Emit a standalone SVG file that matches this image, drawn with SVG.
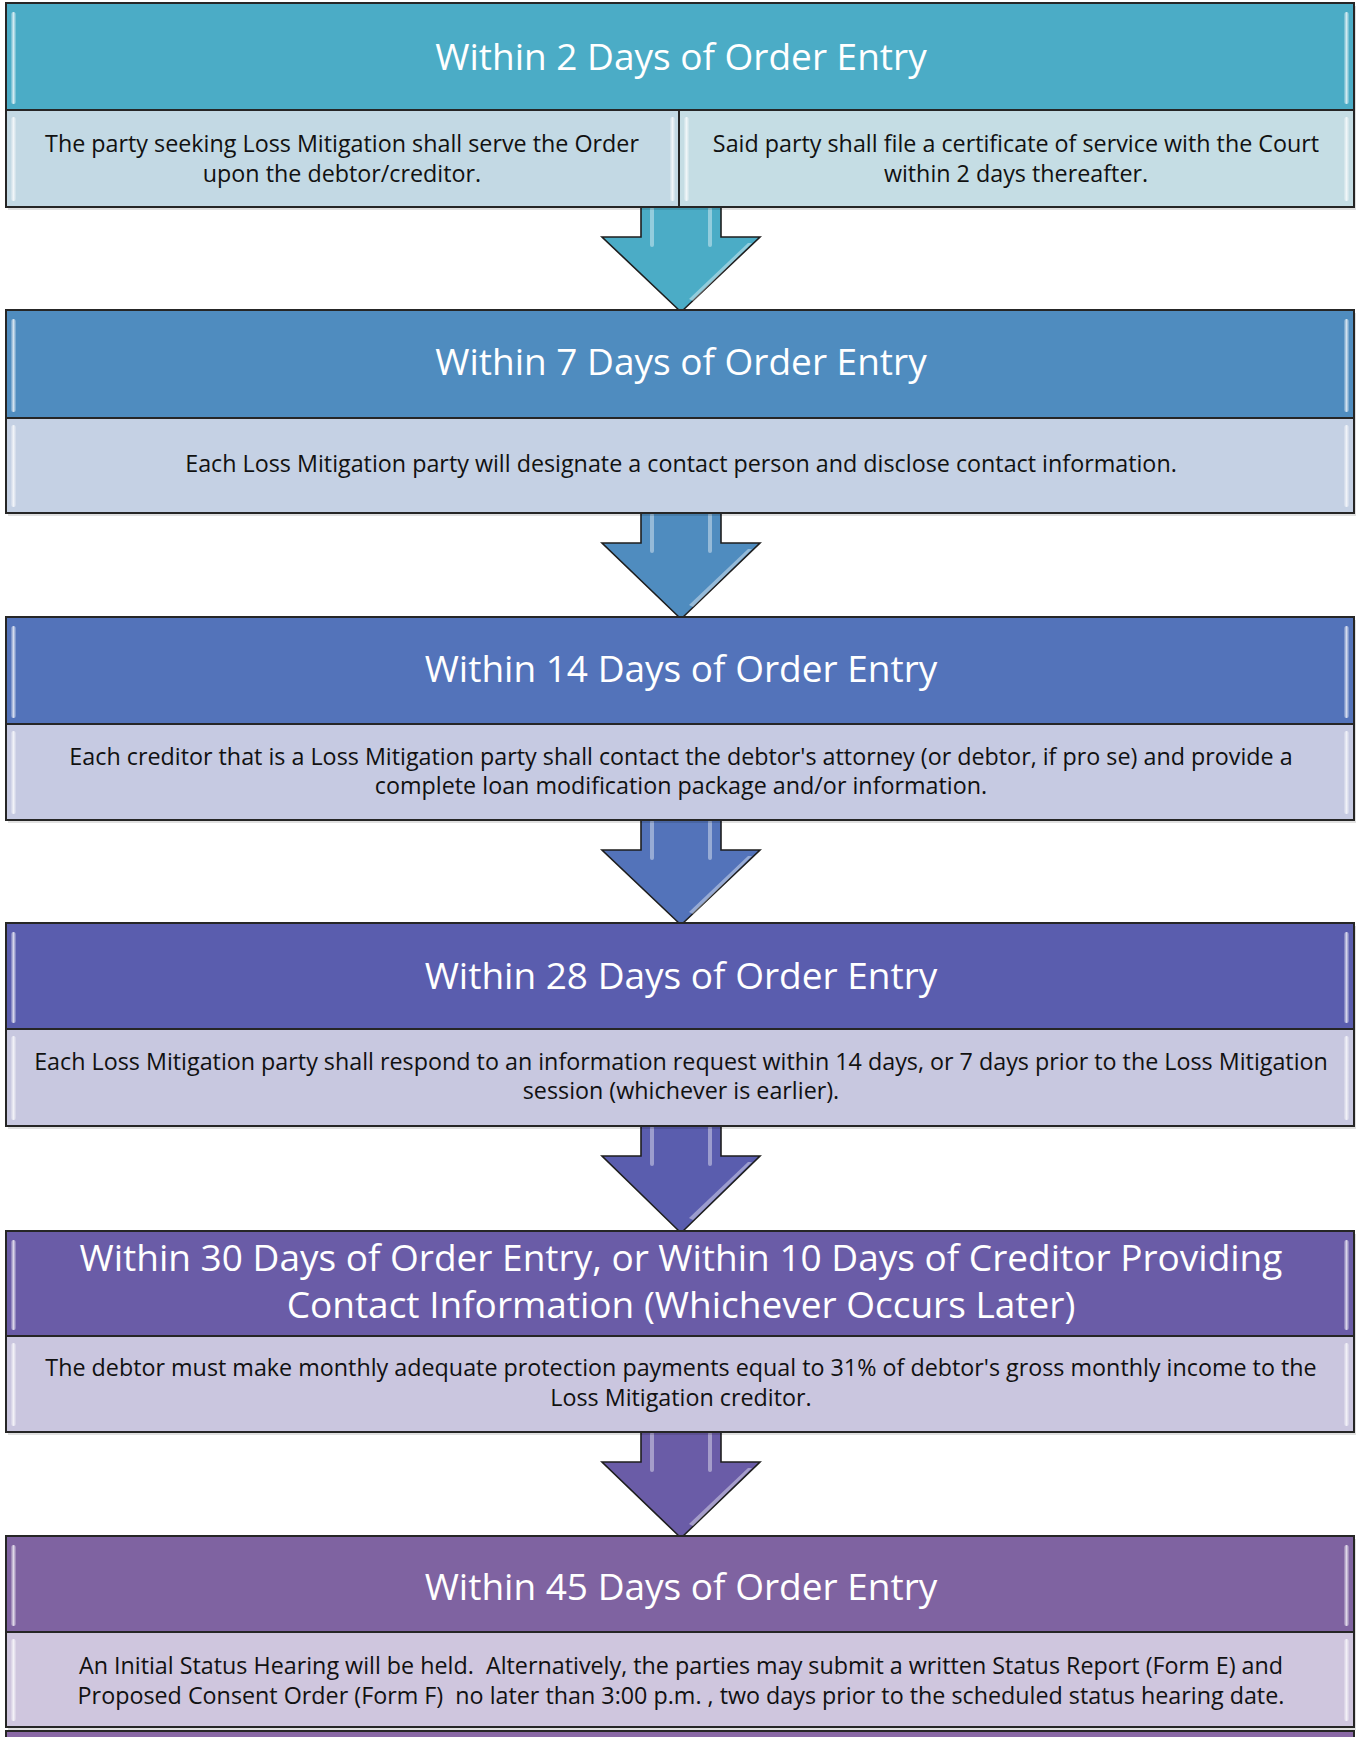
<svg xmlns="http://www.w3.org/2000/svg" width="1356" height="1737" viewBox="0 0 1356 1737">
<style>
.frame{stroke:#262626;stroke-width:2}
.div{stroke:#262626;stroke-width:2}
.title{font-family:"Open Sans","Liberation Sans",sans-serif;font-size:37px;fill:#ffffff;text-anchor:middle}
.body{font-family:"Open Sans","Liberation Sans",sans-serif;font-size:23.3px;fill:#111111;text-anchor:middle;white-space:pre}
.shadow{fill:#000000;opacity:0.12}
.arrow{stroke:#1e1e1e;stroke-width:1.6;stroke-linejoin:miter}
.ahl{fill:#ffffff;opacity:0.4}
</style>
<defs>
<linearGradient id="bev" x1="0" y1="0" x2="1" y2="0">
<stop offset="0" stop-color="#ffffff" stop-opacity="0.15"/>
<stop offset="0.5" stop-color="#ffffff" stop-opacity="0.75"/>
<stop offset="1" stop-color="#ffffff" stop-opacity="0.15"/>
</linearGradient>
</defs>

<g id="connectors">
<g id="arrow1">
<path class="arrow" fill="#4BACC6" d="M641,207 L641,237 L602,237 L681,312 L760,237 L721,237 L721,207 Z"/>
<rect class="ahl" x="650" y="207" width="4" height="40" rx="2"/>
<rect class="ahl" x="708" y="207" width="4" height="40" rx="2"/>
<path class="ahl" d="M748,243 L752,243 L693,301 L689,299 Z"/>
</g>
<g id="arrow2">
<path class="arrow" fill="#4F8CBF" d="M641,513 L641,543 L602,543 L681,619 L760,543 L721,543 L721,513 Z"/>
<rect class="ahl" x="650" y="513" width="4" height="40" rx="2"/>
<rect class="ahl" x="708" y="513" width="4" height="40" rx="2"/>
<path class="ahl" d="M748,549 L752,549 L693,607 L689,605 Z"/>
</g>
<g id="arrow3">
<path class="arrow" fill="#5373BA" d="M641,820 L641,850 L602,850 L681,925 L760,850 L721,850 L721,820 Z"/>
<rect class="ahl" x="650" y="820" width="4" height="40" rx="2"/>
<rect class="ahl" x="708" y="820" width="4" height="40" rx="2"/>
<path class="ahl" d="M748,856 L752,856 L693,914 L689,912 Z"/>
</g>
<g id="arrow4">
<path class="arrow" fill="#5A5DAE" d="M641,1126 L641,1156 L602,1156 L681,1233 L760,1156 L721,1156 L721,1126 Z"/>
<rect class="ahl" x="650" y="1126" width="4" height="40" rx="2"/>
<rect class="ahl" x="708" y="1126" width="4" height="40" rx="2"/>
<path class="ahl" d="M748,1162 L752,1162 L693,1220 L689,1218 Z"/>
</g>
<g id="arrow5">
<path class="arrow" fill="#6A5CA7" d="M641,1432 L641,1462 L602,1462 L681,1538 L760,1462 L721,1462 L721,1432 Z"/>
<rect class="ahl" x="650" y="1432" width="4" height="40" rx="2"/>
<rect class="ahl" x="708" y="1432" width="4" height="40" rx="2"/>
<path class="ahl" d="M748,1468 L752,1468 L693,1526 L689,1524 Z"/>
</g>
</g>

<g id="step1">
<rect class="shadow" x="8" y="6" width="1348" height="204"/>
<rect x="6" y="3" width="1348" height="107" fill="#4BACC6"/>
<rect x="6" y="110" width="673" height="97" fill="#C3D9E4"/>
<rect x="679" y="110" width="675" height="97" fill="#C5DDE4"/>
<rect x="11" y="12" width="5" height="92" rx="2.5" fill="url(#bev)"/>
<rect x="1344" y="12" width="5" height="92" rx="2.5" fill="url(#bev)"/>
<rect x="11" y="117" width="5" height="84" rx="2.5" fill="url(#bev)"/>
<rect x="670" y="117" width="5" height="84" rx="2.5" fill="url(#bev)"/>
<rect x="684" y="117" width="5" height="84" rx="2.5" fill="url(#bev)"/>
<rect x="1344" y="117" width="5" height="84" rx="2.5" fill="url(#bev)"/>
<rect class="frame" x="6" y="3" width="1348" height="204" fill="none"/>
<line class="div" x1="6" y1="110" x2="1354" y2="110"/>
<line class="div" x1="679" y1="110" x2="679" y2="207"/>
<text class="title" x="681" y="70">Within 2 Days of Order Entry</text>
<text class="body" x="342" y="152">The party seeking Loss Mitigation shall serve the Order</text>
<text class="body" x="342" y="182">upon the debtor/creditor.</text>
<text class="body" x="1016" y="152">Said party shall file a certificate of service with the Court</text>
<text class="body" x="1016" y="182">within 2 days thereafter.</text>
</g>

<g id="step2">
<rect class="shadow" x="8" y="313" width="1348" height="203"/>
<rect x="6" y="310" width="1348" height="108" fill="#4F8CBF"/>
<rect x="6" y="418" width="1348" height="95" fill="#C5D1E4"/>
<rect x="11" y="319" width="5" height="93" rx="2.5" fill="url(#bev)"/>
<rect x="1344" y="319" width="5" height="93" rx="2.5" fill="url(#bev)"/>
<rect x="11" y="425" width="5" height="82" rx="2.5" fill="url(#bev)"/>
<rect x="1344" y="425" width="5" height="82" rx="2.5" fill="url(#bev)"/>
<rect class="frame" x="6" y="310" width="1348" height="203" fill="none"/>
<line class="div" x1="6" y1="418" x2="1354" y2="418"/>
<text class="title" x="681" y="375">Within 7 Days of Order Entry</text>
<text class="body" x="681" y="472">Each Loss Mitigation party will designate a contact person and disclose contact information.</text>
</g>

<g id="step3">
<rect class="shadow" x="8" y="620" width="1348" height="203"/>
<rect x="6" y="617" width="1348" height="107" fill="#5373BA"/>
<rect x="6" y="724" width="1348" height="96" fill="#C6CAE2"/>
<rect x="11" y="626" width="5" height="92" rx="2.5" fill="url(#bev)"/>
<rect x="1344" y="626" width="5" height="92" rx="2.5" fill="url(#bev)"/>
<rect x="11" y="731" width="5" height="83" rx="2.5" fill="url(#bev)"/>
<rect x="1344" y="731" width="5" height="83" rx="2.5" fill="url(#bev)"/>
<rect class="frame" x="6" y="617" width="1348" height="203" fill="none"/>
<line class="div" x1="6" y1="724" x2="1354" y2="724"/>
<text class="title" x="681" y="682">Within 14 Days of Order Entry</text>
<text class="body" x="681" y="765">Each creditor that is a Loss Mitigation party shall contact the debtor's attorney (or debtor, if pro se) and provide a</text>
<text class="body" x="681" y="794">complete loan modification package and/or information.</text>
</g>

<g id="step4">
<rect class="shadow" x="8" y="926" width="1348" height="203"/>
<rect x="6" y="923" width="1348" height="106" fill="#5A5DAE"/>
<rect x="6" y="1029" width="1348" height="97" fill="#C8C8E0"/>
<rect x="11" y="932" width="5" height="91" rx="2.5" fill="url(#bev)"/>
<rect x="1344" y="932" width="5" height="91" rx="2.5" fill="url(#bev)"/>
<rect x="11" y="1036" width="5" height="84" rx="2.5" fill="url(#bev)"/>
<rect x="1344" y="1036" width="5" height="84" rx="2.5" fill="url(#bev)"/>
<rect class="frame" x="6" y="923" width="1348" height="203" fill="none"/>
<line class="div" x1="6" y1="1029" x2="1354" y2="1029"/>
<text class="title" x="681" y="989">Within 28 Days of Order Entry</text>
<text class="body" x="681" y="1070">Each Loss Mitigation party shall respond to an information request within 14 days, or 7 days prior to the Loss Mitigation</text>
<text class="body" x="681" y="1099">session (whichever is earlier).</text>
</g>

<g id="step5">
<rect class="shadow" x="8" y="1234" width="1348" height="201"/>
<rect x="6" y="1231" width="1348" height="105" fill="#6A5CA7"/>
<rect x="6" y="1336" width="1348" height="96" fill="#CAC6DF"/>
<rect x="11" y="1240" width="5" height="90" rx="2.5" fill="url(#bev)"/>
<rect x="1344" y="1240" width="5" height="90" rx="2.5" fill="url(#bev)"/>
<rect x="11" y="1343" width="5" height="83" rx="2.5" fill="url(#bev)"/>
<rect x="1344" y="1343" width="5" height="83" rx="2.5" fill="url(#bev)"/>
<rect class="frame" x="6" y="1231" width="1348" height="201" fill="none"/>
<line class="div" x1="6" y1="1336" x2="1354" y2="1336"/>
<text class="title" x="681" y="1271">Within 30 Days of Order Entry, or Within 10 Days of Creditor Providing</text>
<text class="title" x="681" y="1318">Contact Information (Whichever Occurs Later)</text>
<text class="body" x="681" y="1376">The debtor must make monthly adequate protection payments equal to 31% of debtor's gross monthly income to the</text>
<text class="body" x="681" y="1406">Loss Mitigation creditor.</text>
</g>

<g id="step6">
<rect class="shadow" x="8" y="1539" width="1348" height="191"/>
<rect x="6" y="1536" width="1348" height="96" fill="#7F63A1"/>
<rect x="6" y="1632" width="1348" height="95" fill="#CFC6DE"/>
<rect x="11" y="1545" width="5" height="81" rx="2.5" fill="url(#bev)"/>
<rect x="1344" y="1545" width="5" height="81" rx="2.5" fill="url(#bev)"/>
<rect x="11" y="1639" width="5" height="82" rx="2.5" fill="url(#bev)"/>
<rect x="1344" y="1639" width="5" height="82" rx="2.5" fill="url(#bev)"/>
<rect class="frame" x="6" y="1536" width="1348" height="191" fill="none"/>
<line class="div" x1="6" y1="1632" x2="1354" y2="1632"/>
<text class="title" x="681" y="1600">Within 45 Days of Order Entry</text>
<text class="body" x="681" y="1674">An Initial Status Hearing will be held.  Alternatively, the parties may submit a written Status Report (Form E) and</text>
<text class="body" x="681" y="1704">Proposed Consent Order (Form F)  no later than 3:00 p.m. , two days prior to the scheduled status hearing date.</text>
</g>

<g id="step7">
<rect x="6" y="1731" width="1348" height="10" fill="#8A69A6"/>
<rect class="frame" x="6" y="1731" width="1348" height="10" fill="none"/>
</g>
</svg>
